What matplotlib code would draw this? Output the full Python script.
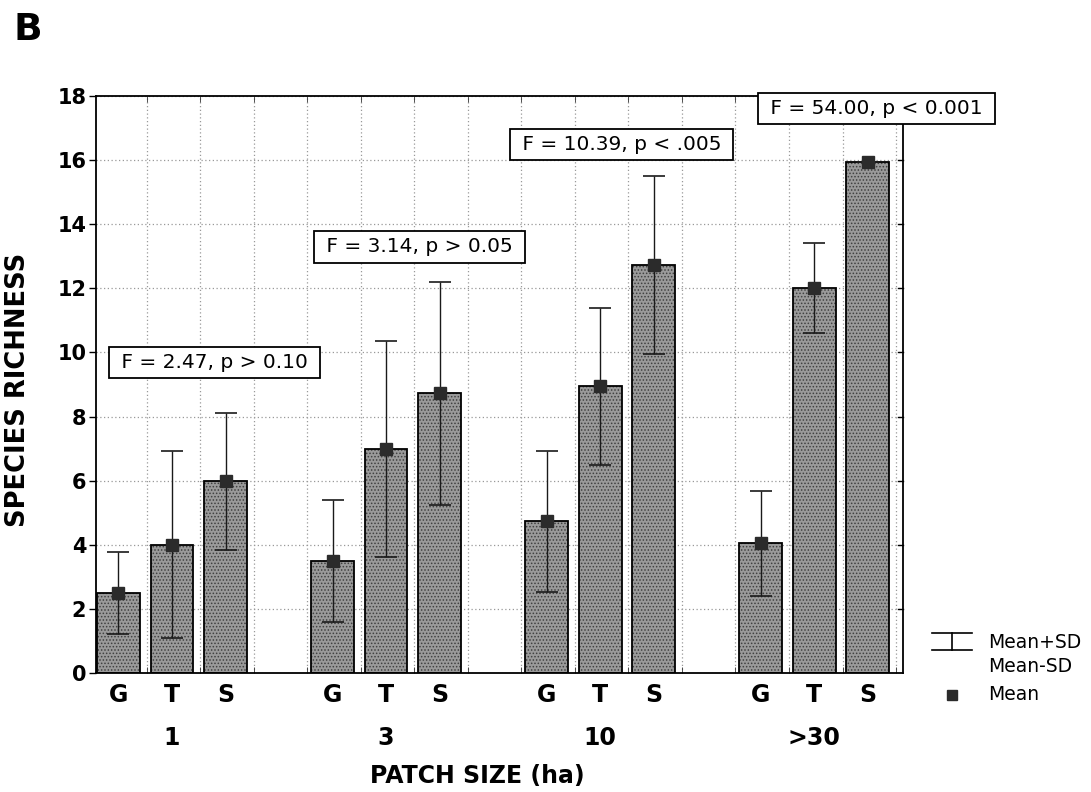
import matplotlib
matplotlib.use("Agg")
import matplotlib.pyplot as plt
from matplotlib.lines import Line2D
import numpy as np

# ---- data ----
patch_sizes = ["1", "3", "10", ">30"]
habitats = ["G", "T", "S"]
mean_vals = [2.50, 4.00, 5.98,
             3.50, 7.00, 8.72,
             4.74, 8.95, 12.72,
             4.04, 12.00, 15.95]
sd_vals = [1.28, 2.91, 2.14,
           1.91, 3.37, 3.48,
           2.20, 2.45, 2.78,
           1.63, 1.40, 0.00]
stat_labels = ["F = 2.47, p > 0.10", "F = 3.14, p > 0.05",
               "F = 10.39, p < .005", "F = 54.00, p < 0.001"]
y_ticks = [0, 2, 4, 6, 8, 10, 12, 14, 16, 18]

plt.rcParams['font.family'] = ['DejaVu Sans']
plt.rcParams['hatch.linewidth'] = 0.7

W, H = 1091, 792
fig = plt.figure(figsize=(W / 100, H / 100), dpi=100)
def fx(px): return px / W
def fy(py): return 1 - py / H

ax = fig.add_axes([fx(96), fy(673), (903 - 96) / W, (673 - 96) / H])

# bar positions: 3 bars per group, one empty slot between groups
pos = []
for g in range(len(patch_sizes)):
    for h in range(len(habitats)):
        pos.append(g * 4 + h)
pos = np.array(pos, dtype=float)

bw = 0.8
ax.bar(pos, mean_vals, width=bw, color='#9a9a9a', hatch='.....',
       edgecolor='#404040', linewidth=0, zorder=2)
ax.bar(pos, mean_vals, width=bw, fill=False, edgecolor='black',
       linewidth=1.3, zorder=3)
ax.errorbar(pos, mean_vals, yerr=sd_vals, fmt='none', ecolor='#1a1a1a',
            elinewidth=1.0, capsize=8, capthick=1.2, zorder=4)
ax.plot(pos, mean_vals, linestyle='none', marker='s', markersize=8.5,
        color='#2b2b2b', zorder=5)

ax.set_xlim(-0.42, 14.66)
ax.set_ylim(0, 18)
ax.set_yticks(y_ticks)
ax.set_yticklabels([str(v) for v in y_ticks], fontsize=15, fontweight='bold')
ax.set_xticks([])
ax.set_xticks(np.arange(0.53, 14.6, 1.0), minor=True)
ax.tick_params(axis='x', which='minor', direction='in', length=4,
               top=True, bottom=True, labelbottom=False, color='#333333')
ax.tick_params(axis='y', which='major', direction='out', length=5, pad=2,
               width=1.0, left=True, right=False)
ax.grid(True, which='major', axis='y', linestyle=(0, (1, 2)),
        color='#999999', linewidth=0.9, zorder=1)
ax.grid(True, which='minor', axis='x', linestyle=(0, (1, 2)),
        color='#999999', linewidth=0.9, zorder=1)
ax.set_axisbelow(True)
for s in ax.spines.values():
    s.set_linewidth(1.3)
    s.set_zorder(3.5)

# right spine inward ticks
for yv in y_ticks[1:-1]:
    ax.plot([14.66 - 0.1, 14.66], [yv, yv], color='black', linewidth=1.0,
            clip_on=False, zorder=3)

# category labels
xt = ax.get_xaxis_transform()
for i, p in enumerate(pos):
    ax.text(p, -22 / 577, habitats[i % 3], transform=xt, ha='center',
            va='center', fontsize=17, fontweight='bold')
for g, name in enumerate(patch_sizes):
    ax.text(g * 4 + 1, -65 / 577, name, transform=xt, ha='center',
            va='center', fontsize=17, fontweight='bold')

fig.text(fx(477), fy(776), "PATCH SIZE (ha)", ha='center', va='center',
         fontsize=17, fontweight='bold')
fig.text(fx(18), fy(390), "SPECIES RICHNESS", ha='center', va='center',
         rotation=90, fontsize=18.5, fontweight='bold')
fig.text(fx(28), fy(30), "B", ha='center', va='center', fontsize=27,
         fontweight='bold')

# F-statistic boxes
box_xy = [(1.79, 9.70), (5.63, 13.29), (9.40, 16.5), (14.17, 17.62)]
for (bx, by), lab in zip(box_xy, stat_labels):
    ax.text(bx, by, " " + lab + " ", ha='center', va='center', fontsize=14.5,
            bbox=dict(boxstyle='square,pad=0.3', facecolor='white',
                      edgecolor='black', linewidth=1.3),
            zorder=6, clip_on=False)

# legend drawn manually
fig.add_artist(Line2D([fx(932), fx(972)], [fy(633), fy(633)], color='black', lw=1.2))
fig.add_artist(Line2D([fx(932), fx(972)], [fy(650), fy(650)], color='black', lw=1.2))
fig.add_artist(Line2D([fx(952), fx(952)], [fy(633), fy(650)], color='black', lw=1.2))
fig.add_artist(Line2D([fx(952)], [fy(695)], marker='s', markersize=7,
                      color='#2b2b2b', linestyle='none'))
fig.text(fx(988), fy(643), "Mean+SD", ha='left', va='center', fontsize=13.5)
fig.text(fx(988), fy(667), "Mean-SD", ha='left', va='center', fontsize=13.5)
fig.text(fx(988), fy(695), "Mean", ha='left', va='center', fontsize=13.5)

fig.savefig("out.png", dpi=100)
